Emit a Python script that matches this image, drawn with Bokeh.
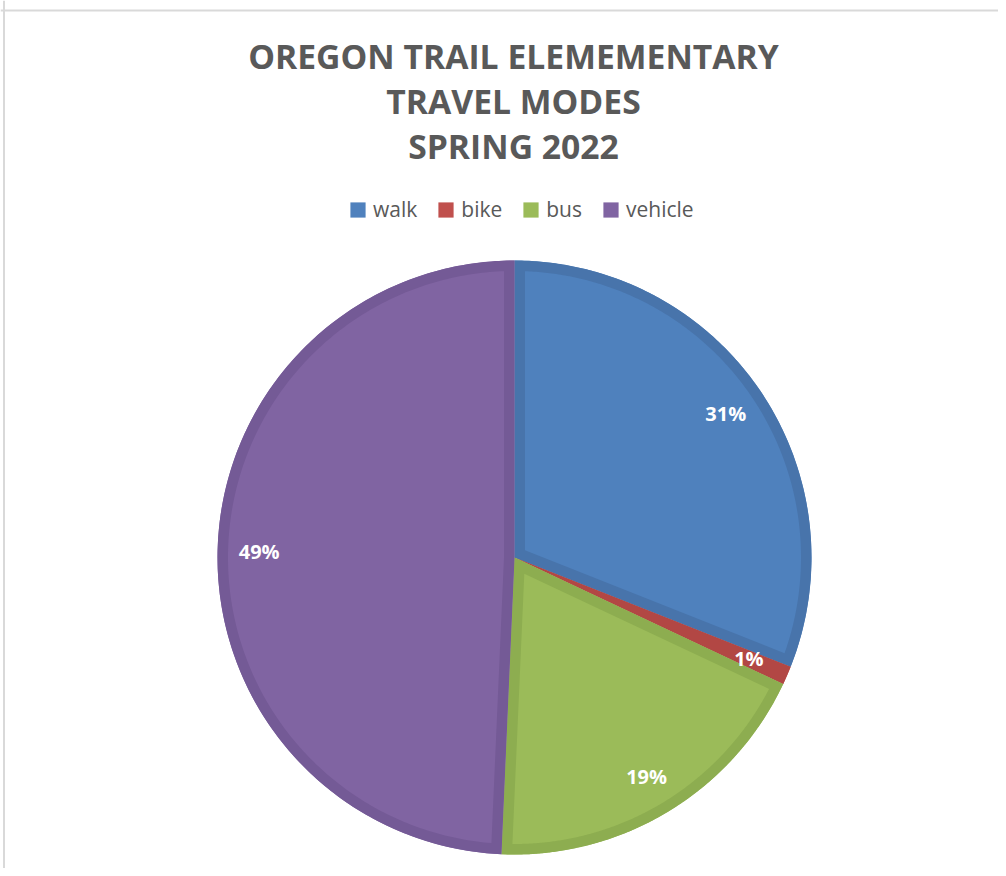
import numpy as np
from bokeh.plotting import figure
from bokeh.models import Range1d, Label, Legend, LegendItem, Span, ColumnDataSource
from bokeh.core.properties import value
from bokeh.embed import file_html
from bokeh.resources import INLINE

# ---- data ----
categories = ["walk", "bike", "bus", "vehicle"]
shares = [31.0, 1.0, 18.7, 49.3]
pct_labels = ["31%", "1%", "19%", "49%"]
title_lines = ["OREGON TRAIL ELEMEMENTARY", "TRAVEL MODES", "SPRING 2022"]

# ---- styles ----
fill_colors = ["#4F81BD", "#C0504D", "#9BBB59", "#8064A2"]
band_colors = ["#4874AB", "#B24744", "#8DAD50", "#745A96"]
text_gray = "#595959"

W, H = 998, 868
p = figure(width=W, height=H, x_range=Range1d(0, W), y_range=Range1d(0, H),
           output_backend="svg", toolbar_location=None, min_border=0,
           x_axis_type=None, y_axis_type=None, outline_line_color=None)
p.xgrid.visible = False
p.ygrid.visible = False

cx, cy, R = 514, 311, 297
band = 10.5

vals = np.array(shares, dtype=float)
frac = vals / vals.sum()
cum = np.concatenate([[0.0], np.cumsum(frac)])
start = np.pi / 2 - 2 * np.pi * cum[:-1]
end = np.pi / 2 - 2 * np.pi * cum[1:]

src = ColumnDataSource(dict(cat=categories, start=start, end=end, color=fill_colors))
wr = p.wedge(x=cx, y=cy, radius=R, start_angle="start", end_angle="end",
             direction="clock", fill_color="color", line_color=None, source=src)

# darker bevel band around each slice (outer wedge minus inset wedge)
bxs, bys = [], []
for a0, a1 in zip(start, end):
    arc = np.linspace(a0, a1, 240)
    ox = [cx] + list(cx + R * np.cos(arc))
    oy = [cy] + list(cy + R * np.sin(arc))
    rings_x, rings_y = [ox], [oy]
    theta = a0 - a1
    half = theta / 2
    Rp = R - band
    if half > 0 and band / np.sin(half) < Rp * 0.9:
        d = band / np.sin(half)
        mid = (a0 + a1) / 2
        vx, vy = cx + d * np.cos(mid), cy + d * np.sin(mid)
        off = np.arcsin(band / Rp)
        iarc = np.linspace(a0 - off, a1 + off, 240)
        ix = [vx] + list(cx + Rp * np.cos(iarc))
        iy = [vy] + list(cy + Rp * np.sin(iarc))
        rings_x.append(ix)
        rings_y.append(iy)
    bxs.append([rings_x])
    bys.append([rings_y])

p.multi_polygons(xs=bxs, ys=bys, fill_color=band_colors, line_color=None)

# data labels
mid = (start + end) / 2
lr = 0.86 * R
p.text(x=cx + lr * np.cos(mid), y=cy + lr * np.sin(mid), text=pct_labels,
       text_font=value("Open Sans"), text_font_style="bold", text_font_size="20px",
       text_color="white", text_align="center", text_baseline="middle")

# title
for i, line in enumerate(title_lines):
    p.add_layout(Label(x=513, y=813 - 45 * i, text=line, text_font="Open Sans",
                       text_font_style="bold", text_font_size="33.7px",
                       text_color=text_gray, text_align="center",
                       text_baseline="alphabetic"))

# legend
items = [LegendItem(label=c, renderers=[wr], index=i) for i, c in enumerate(categories)]
legend = Legend(items=items, orientation="horizontal", location=(348, 645),
                glyph_width=19, glyph_height=19, label_standoff=6, spacing=19,
                padding=0, margin=0, border_line_color=None, background_fill_alpha=0,
                label_text_font="Open Sans", label_text_font_size="21px",
                label_text_color=text_gray)
p.add_layout(legend)

# chart border (top and left visible)
p.add_layout(Span(location=858, dimension="width", line_color="#D9D9D9", line_width=2))
p.add_layout(Span(location=3.5, dimension="height", line_color="#D9D9D9", line_width=2))

open("out.html", "w").write(file_html(p, INLINE))
